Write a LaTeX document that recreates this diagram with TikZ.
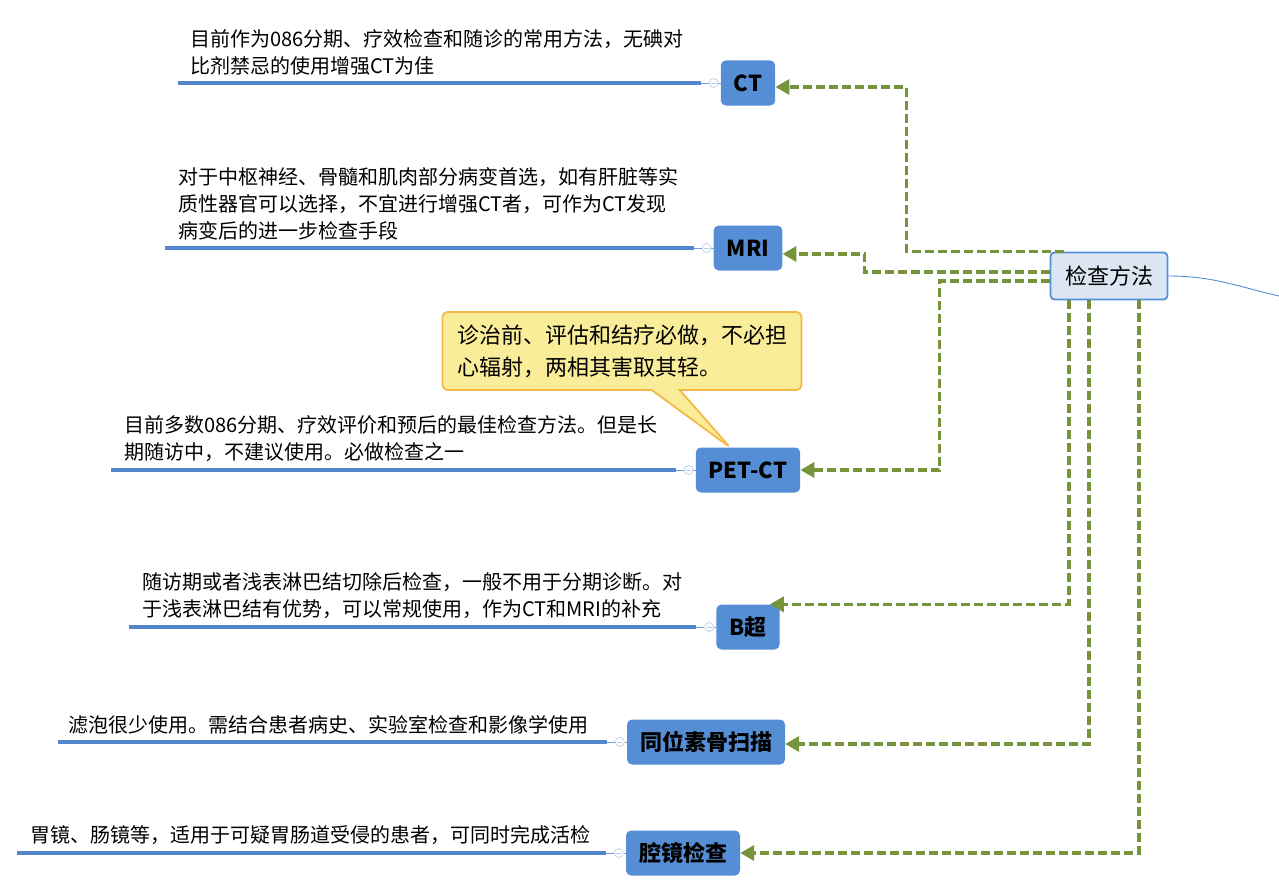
\documentclass[tikz,border=0pt]{standalone}
\usepackage{fontspec}
\setmainfont{Noto Sans CJK SC}
\usetikzlibrary{arrows.meta,shapes.callouts}
\definecolor{topicBlue}{RGB}{85,142,213}
\definecolor{stemBlue}{RGB}{83,135,205}
\definecolor{rootFill}{RGB}{220,230,242}
\definecolor{relGreen}{RGB}{119,147,60}
\definecolor{noteYellow}{RGB}{250,237,154}
\definecolor{noteOrange}{RGB}{242,185,68}

\begin{document}
\begin{tikzpicture}[x=1pt, y=-1pt,
  root/.style={draw=topicBlue, fill=rootFill, line width=1.8, rounded corners=4,
    minimum width=117, minimum height=47, font=\fontsize{22}{26}\selectfont},
  topic/.style={fill=topicBlue, rounded corners=5, minimum height=45, inner xsep=13,
    font=\bfseries\fontsize{22}{26}\selectfont},
  note/.style={anchor=south west, inner sep=0, align=left, font=\fontsize{20}{27}\selectfont},
  knob/.style={circle, draw=stemBlue!45, fill=white, line width=0.6, minimum size=9, inner sep=0,
    path picture={\draw[stemBlue!45, line width=0.6] ([xshift=-2.5pt]path picture bounding box.center) -- ([xshift=2.5pt]path picture bounding box.center);}},
  stem/.style={stemBlue, line width=3.5},
  twig/.style={stemBlue!80, line width=0.9},
  rel/.style={relGreen, line width=3.5, dash pattern=on 9pt off 4pt, -{Triangle[length=14pt, width=15pt]}},
  tipbox/.style={rectangle callout, fill=noteYellow, draw=noteOrange, line width=1.8, rounded corners=5,
    minimum width=359, minimum height=78, text width=329, inner xsep=15, align=left,
    callout pointer width=28, font=\fontsize{22}{32}\selectfont}]
  \useasboundingbox (0,0) rectangle (1279,883);

  \node[root] (root) at (1109,276) {检查方法};
  \coordinate (up) at (1279,296);
  \draw[topicBlue, line width=0.9] (root.east) to[out=0, in=167] (up);

  \node[topic] (ct) at (748,83) {CT};
  \node[topic] (mri) at (748,248) {MRI};
  \node[topic] (pet) at (748,470) {PET-CT};
  \node[topic] (bus) at (748,627) {B超};
  \node[topic] (bone) at (706,742) {同位素骨扫描};
  \node[topic] (endo) at (683,853) {腔镜检查};

  \node[knob] (ctk) at ([xshift=-7]ct.west) {};
  \node[knob] (mrik) at ([xshift=-7]mri.west) {};
  \node[knob] (petk) at ([xshift=-7]pet.west) {};
  \node[knob] (busk) at ([xshift=-7]bus.west) {};
  \node[knob] (bonek) at ([xshift=-7]bone.west) {};
  \node[knob] (endok) at ([xshift=-7]endo.west) {};

  \coordinate (cts) at (178,83);
  \coordinate (mris) at (165,248);
  \coordinate (pets) at (111,470);
  \coordinate (buss) at (129,627);
  \coordinate (bones) at (58,742);
  \coordinate (endos) at (17,853);

  \draw[twig] (ctk) -- (ct);
  \draw[twig] (mrik) -- (mri);
  \draw[twig] (petk) -- (pet);
  \draw[twig] (busk) -- (bus);
  \draw[twig] (bonek) -- (bone);
  \draw[twig] (endok) -- (endo);

  \draw[twig] (ctk.west) -- ++(-8,0);
  \draw[twig] (mrik.west) -- ++(-8,0);
  \draw[twig] (petk.west) -- ++(-8,0);
  \draw[twig] (busk.west) -- ++(-8,0);
  \draw[twig] (bonek.west) -- ++(-8,0);
  \draw[twig] (endok.west) -- ++(-8,0);

  \draw[stem] (cts) -- ([xshift=-8]ctk.west);
  \draw[stem] (mris) -- ([xshift=-8]mrik.west);
  \draw[stem] (pets) -- ([xshift=-8]petk.west);
  \draw[stem] (buss) -- ([xshift=-8]busk.west);
  \draw[stem] (bones) -- ([xshift=-8]bonek.west);
  \draw[stem] (endos) -- ([xshift=-8]endok.west);

  \node[note] (ctn) at (190,75) {目前作为086分期、疗效检查和随诊的常用方法，无碘对\\比剂禁忌的使用增强CT为佳};
  \node[note] (mrin) at (178,240) {对于中枢神经、骨髓和肌肉部分病变首选，如有肝脏等实\\质性器官可以选择，不宜进行增强CT者，可作为CT发现\\病变后的进一步检查手段};
  \node[note] (petn) at (124,462) {目前多数086分期、疗效评价和预后的最佳检查方法。但是长\\期随访中，不建议使用。必做检查之一};
  \node[note] (busn) at (142,619) {随访期或者浅表淋巴结切除后检查，一般不用于分期诊断。对\\于浅表淋巴结有优势，可以常规使用，作为CT和MRI的补充};
  \node[note] (bonen) at (68,734) {滤泡很少使用。需结合患者病史、实验室检查和影像学使用};
  \node[note] (endon) at (30,845) {胃镜、肠镜等，适用于可疑胃肠道受侵的患者，可同时完成活检};

  \node[tipbox, callout absolute pointer={([xshift=-18]pet.north)}] (tip) at (622,351)
    {诊治前、评估和结疗必做，不必担\\心辐射，两相其害取其轻。};

  \draw[rel] ([xshift=14]root.north west) -- ++(-157,0) |- ([yshift=-4]ct.east);
  \draw[rel] ([yshift=4]root.west) -- ++(-185,0) |- ([yshift=-6]mri.east);
  \draw[rel] ([yshift=-5]root.west) -- ++(-110,0) |- (pet.east);
  \draw[rel] ([xshift=-40]root.south) |- ([xshift=-10]bus.north east);
  \draw[rel] ([xshift=-20]root.south) |- ([yshift=-2]bone.east);
  \draw[rel] ([xshift=30]root.south) |- (endo.east);
\end{tikzpicture}
\end{document}
